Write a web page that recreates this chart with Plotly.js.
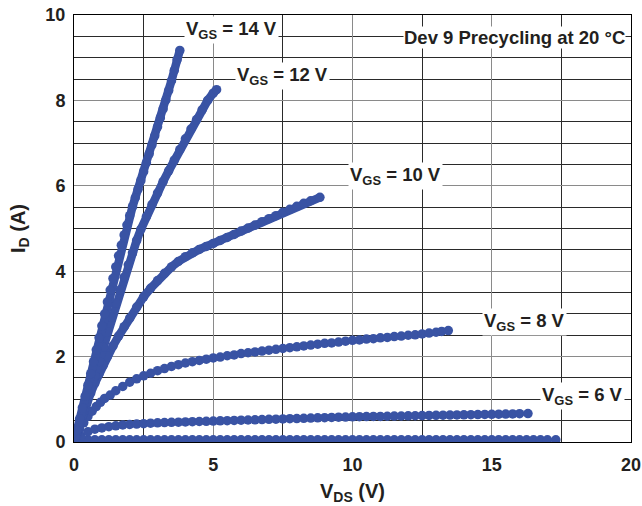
<!DOCTYPE html>
<html>
<head>
<meta charset="utf-8">
<script src="https://cdn.plot.ly/plotly-3.0.1.min.js"></script>
<style>html,body{margin:0;padding:0;background:#fff;}#chart{width:642px;height:506px;}</style>
</head>
<body>
<div id="chart"></div>
<script>
// V_DS (V) and I_D (A)
const vds14 = [0,0.1,0.2,0.3,0.4,0.5,0.6,0.7,0.8,0.9,1.0,1.1,1.2,1.3,1.4,1.5,1.6,1.7,1.8,1.9,2.0,2.1,2.2,2.3,2.4,2.5,2.6,2.7,2.8,2.9,3.0,3.1,3.2,3.3,3.4,3.5,3.6,3.7,3.8];
const id14  = [0,0.27,0.54,0.8,1.07,1.33,1.6,1.88,2.16,2.44,2.72,3.0,3.28,3.56,3.83,4.1,4.36,4.61,4.85,5.08,5.3,5.51,5.72,5.92,6.12,6.33,6.54,6.75,6.96,7.17,7.38,7.59,7.8,8.01,8.23,8.46,8.7,8.95,9.17];

const vds12 = [0,0.15,0.3,0.45,0.6,0.75,0.9,1.05,1.2,1.35,1.5,1.65,1.8,1.95,2.1,2.25,2.4,2.6,2.8,3.0,3.2,3.4,3.6,3.8,4.0,4.2,4.4,4.6,4.8,5.0,5.12];
const id12  = [0,0.32,0.63,0.94,1.25,1.55,1.88,2.22,2.58,2.92,3.25,3.56,3.86,4.15,4.43,4.72,4.98,5.28,5.56,5.83,6.1,6.35,6.6,6.85,7.1,7.33,7.55,7.78,8.0,8.17,8.25];

const vds10 = [0,0.15,0.3,0.45,0.6,0.75,0.9,1.05,1.2,1.4,1.6,1.8,2.0,2.25,2.5,2.75,3.0,3.25,3.5,3.75,4.0,4.25,4.5,4.75,5.0,5.25,5.5,5.75,6.0,6.25,6.5,6.75,7.0,7.25,7.5,7.75,8.0,8.25,8.5,8.83];
const id10  = [0,0.32,0.62,0.9,1.15,1.38,1.6,1.8,2.0,2.25,2.48,2.7,2.9,3.16,3.4,3.6,3.78,3.95,4.1,4.23,4.34,4.43,4.51,4.58,4.65,4.72,4.79,4.86,4.94,5.01,5.08,5.16,5.23,5.3,5.38,5.45,5.52,5.59,5.65,5.73];

const vds8 = [0,0.1,0.2,0.35,0.5,0.65,0.8,0.95,1.1,1.3,1.5,1.75,2.0,2.25,2.5,2.75,3.0,3.25,3.5,3.75,4.0,4.25,4.5,4.75,5.0,5.25,5.5,5.75,6.0,6.25,6.5,6.75,7.0,7.25,7.5,7.75,8.0,8.25,8.5,8.75,9.0,9.25,9.5,9.75,10.0,10.25,10.5,10.75,11.0,11.25,11.5,11.75,12.0,12.25,12.5,12.75,13.0,13.2,13.44];
const id8  = [0,0.15,0.3,0.45,0.6,0.72,0.83,0.93,1.02,1.1,1.2,1.3,1.4,1.48,1.55,1.61,1.67,1.72,1.77,1.81,1.85,1.88,1.91,1.94,1.97,1.99,2.02,2.04,2.07,2.09,2.11,2.13,2.15,2.17,2.19,2.21,2.23,2.25,2.27,2.29,2.31,2.32,2.34,2.36,2.38,2.39,2.41,2.42,2.44,2.45,2.47,2.48,2.5,2.51,2.53,2.55,2.57,2.59,2.61];

const vds6 = [0,0.25,0.5,0.75,1.0,1.25,1.5,1.75,2.0,2.25,2.5,2.75,3.0,3.25,3.5,3.75,4.0,4.25,4.5,4.75,5.0,5.25,5.5,5.75,6.0,6.25,6.5,6.75,7.0,7.25,7.5,7.75,8.0,8.25,8.5,8.75,9.0,9.25,9.5,9.75,10.0,10.25,10.5,10.75,11.0,11.25,11.5,11.75,12.0,12.25,12.5,12.75,13.0,13.25,13.5,13.75,14.0,14.25,14.5,14.75,15.0,15.25,15.5,15.75,16.0,16.3];
const id6  = [0,0.14,0.24,0.3,0.33,0.36,0.38,0.4,0.41,0.42,0.43,0.44,0.45,0.455,0.46,0.465,0.47,0.475,0.48,0.485,0.49,0.495,0.5,0.505,0.51,0.515,0.52,0.525,0.53,0.535,0.54,0.545,0.55,0.555,0.56,0.565,0.57,0.575,0.58,0.585,0.59,0.592,0.595,0.598,0.6,0.603,0.606,0.609,0.612,0.615,0.618,0.621,0.624,0.627,0.63,0.633,0.636,0.639,0.642,0.645,0.648,0.651,0.655,0.658,0.662,0.665];

const vdsOff = [0,0.25,0.5,0.75,1.0,1.25,1.5,1.75,2.0,2.25,2.5,2.75,3.0,3.25,3.5,3.75,4.0,4.25,4.5,4.75,5.0,5.25,5.5,5.75,6.0,6.25,6.5,6.75,7.0,7.25,7.5,7.75,8.0,8.25,8.5,8.75,9.0,9.25,9.5,9.75,10.0,10.25,10.5,10.75,11.0,11.25,11.5,11.75,12.0,12.25,12.5,12.75,13.0,13.25,13.5,13.75,14.0,14.25,14.5,14.75,15.0,15.25,15.5,15.75,16.0,16.25,16.5,16.75,17.0,17.3];
const idOff  = [0,0.04,0.05,0.05,0.05,0.05,0.05,0.05,0.05,0.05,0.05,0.05,0.05,0.05,0.05,0.05,0.05,0.05,0.05,0.05,0.05,0.05,0.05,0.05,0.05,0.05,0.05,0.05,0.05,0.05,0.05,0.05,0.05,0.05,0.05,0.05,0.05,0.05,0.05,0.05,0.05,0.05,0.05,0.05,0.05,0.05,0.05,0.05,0.05,0.05,0.05,0.05,0.05,0.05,0.05,0.05,0.05,0.05,0.05,0.05,0.05,0.05,0.05,0.05,0.05,0.05,0.05,0.05,0.05,0.05];

const labels = ["V<sub>GS</sub> = 14 V","V<sub>GS</sub> = 12 V","V<sub>GS</sub> = 10 V","V<sub>GS</sub> = 8 V","V<sub>GS</sub> = 6 V"];
const labelX = [5.64, 7.5, 11.56, 16.19, 18.27];
const labelY = [9.64, 8.58, 6.24, 2.8, 1.08];
const noteText = "Dev 9 Precycling at 20 °C";

const C = '#3953a4';
const FF = 'Arial, "Liberation Sans", sans-serif';
const TC = '#231f20';

function thick(x, y){ return {x:x, y:y, type:'scatter', mode:'lines+markers', line:{color:C, width:8.5}, marker:{color:C, size:9.5}, hoverinfo:'skip'}; }
function beads(x, y){ return {x:x, y:y, type:'scatter', mode:'markers', marker:{color:C, size:9.5}, hoverinfo:'skip'}; }

const data = [beads(vdsOff, idOff), beads(vds6, id6), beads(vds8, id8), thick(vds10, id10), thick(vds12, id12), thick(vds14, id14)];

const annotations = labels.map((t,i)=>({x:labelX[i], y:labelY[i], xref:'x', yref:'y', text:t, showarrow:false,
  font:{family:FF, size:18.5, color:TC, weight:'bold'}, bgcolor:'#ffffff', borderpad:1, xanchor:'center', yanchor:'middle'}));
annotations.push({x:15.8, y:9.48, xref:'x', yref:'y', text:noteText, showarrow:false,
  font:{family:FF, size:18.5, color:TC, weight:'bold'}, bgcolor:'#ffffff', borderpad:0, xanchor:'center', yanchor:'middle'});

const layout = {
  width:642, height:506,
  margin:{l:74, r:11, t:15, b:64},
  paper_bgcolor:'#fff', plot_bgcolor:'#fff',
  showlegend:false,
  font:{family:FF, color:TC},
  xaxis:{range:[0,20], dtick:5, tick0:0, showgrid:true, gridcolor:'#8a8a8a', gridwidth:1,
    minor:{dtick:2.5, showgrid:true, gridcolor:'#2a2a2a', gridwidth:1, ticks:''},
    showline:true, linecolor:'#000', linewidth:1, mirror:true, zeroline:false, ticks:'',
    ticklabelstandoff:6,
    tickfont:{family:FF, size:18, weight:'bold', color:TC},
    title:{text:'V<sub>DS</sub> (V)', font:{family:FF, size:20, weight:'bold', color:TC}, standoff:10}},
  yaxis:{range:[0,10], dtick:2, tick0:0, showgrid:true, gridcolor:'#8a8a8a', gridwidth:1,
    minor:{dtick:0.5, showgrid:true, gridcolor:'#2a2a2a', gridwidth:1, ticks:''},
    showline:true, linecolor:'#000', linewidth:1, mirror:true, zeroline:false, ticks:'',
    ticklabelstandoff:4,
    tickfont:{family:FF, size:18, weight:'bold', color:TC},
    title:{text:'I<sub>D</sub> (A)', font:{family:FF, size:20, weight:'bold', color:TC}, standoff:14}},
  annotations:annotations
};

Plotly.newPlot('chart', data, layout, {displayModeBar:false, staticPlot:true});
</script>
</body>
</html>
